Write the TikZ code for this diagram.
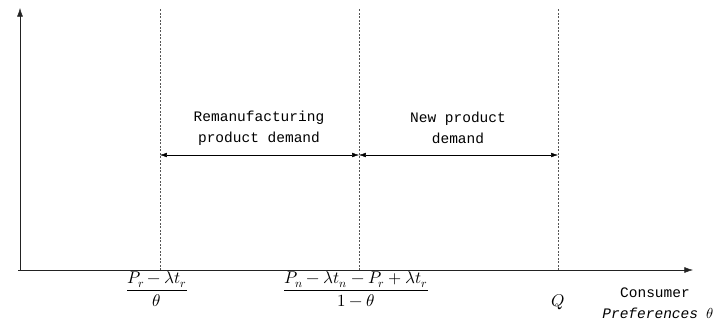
\documentclass[tikz,border=0pt]{standalone}
\usepackage{amsmath}
\usepackage{fontspec}
\usepackage{unicode-math}
\setmainfont{Liberation Mono}
\setmathfont{Latin Modern Math}
\usetikzlibrary{arrows.meta,positioning,calc}
\definecolor{cA}{HTML}{222222}
\definecolor{cG}{HTML}{555555}
\tikzset{
  axis/.style={-{Latex[length=3mm,width=2mm]},thin,cA},
  guide/.style={dashed,dash pattern=on 2pt off 1.5pt,thin,cG},
  span/.style={{Latex[length=2.4mm,width=1.6mm]}-{Latex[length=2.4mm,width=1.6mm]},thin,black},
  lbl/.style={align=center,inner sep=0pt,font=\fontsize{14.5}{21}\selectfont},
  frac/.style={inner sep=0pt,font=\fontsize{17}{20}\selectfont},
}

\begin{document}
\begin{tikzpicture}[x=1pt,y=-1pt]
  \useasboundingbox (0,0) rectangle (715,324);
  % axes
  \coordinate (o) at (20,270);
  \coordinate (ytop) at (20,8);
  \coordinate (xend) at (693,270);
  \draw[axis] (18,270)--(xend);
  \draw[axis] (o)--(ytop);
  % thresholds
  \coordinate (t1) at (160,270); \coordinate (t1u) at (160,8);
  \coordinate (t2) at (359,270); \coordinate (t2u) at (359,8);
  \coordinate (t3) at (558,270); \coordinate (t3u) at (558,8);
  \draw[guide] (t1)--(t1u);
  \draw[guide] (t2)--(t2u);
  \draw[guide] (t3)--(t3u);
  % demand spans
  \coordinate (s1) at (160,155); \coordinate (s2) at (359,155);
  \coordinate (s3) at (558,155);
  \draw[span] (s1)--(s2);
  \draw[span] (s2)--(s3);
  \node[lbl] (rem) at (259,128) {Remanufacturing\\product demand};
  \node[lbl] (new) at (458,128) {New product\\demand};
  % axis labels
  \node[frac] (f1) at (157,289) {$\dfrac{P_r-\lambda t_r}{\theta}$};
  \node[frac] (f2) at (356,289) {$\dfrac{P_n-\lambda t_n-P_r+\lambda t_r}{1-\theta}$};
  \node[frac] (q) at (558,302) {$Q$};
  \node[lbl,anchor=east] (cons) at (690,293) {Consumer};
  \node[lbl,anchor=east] (pref) at (714,313) {\itshape Preferences $\theta$};
\end{tikzpicture}
\end{document}
